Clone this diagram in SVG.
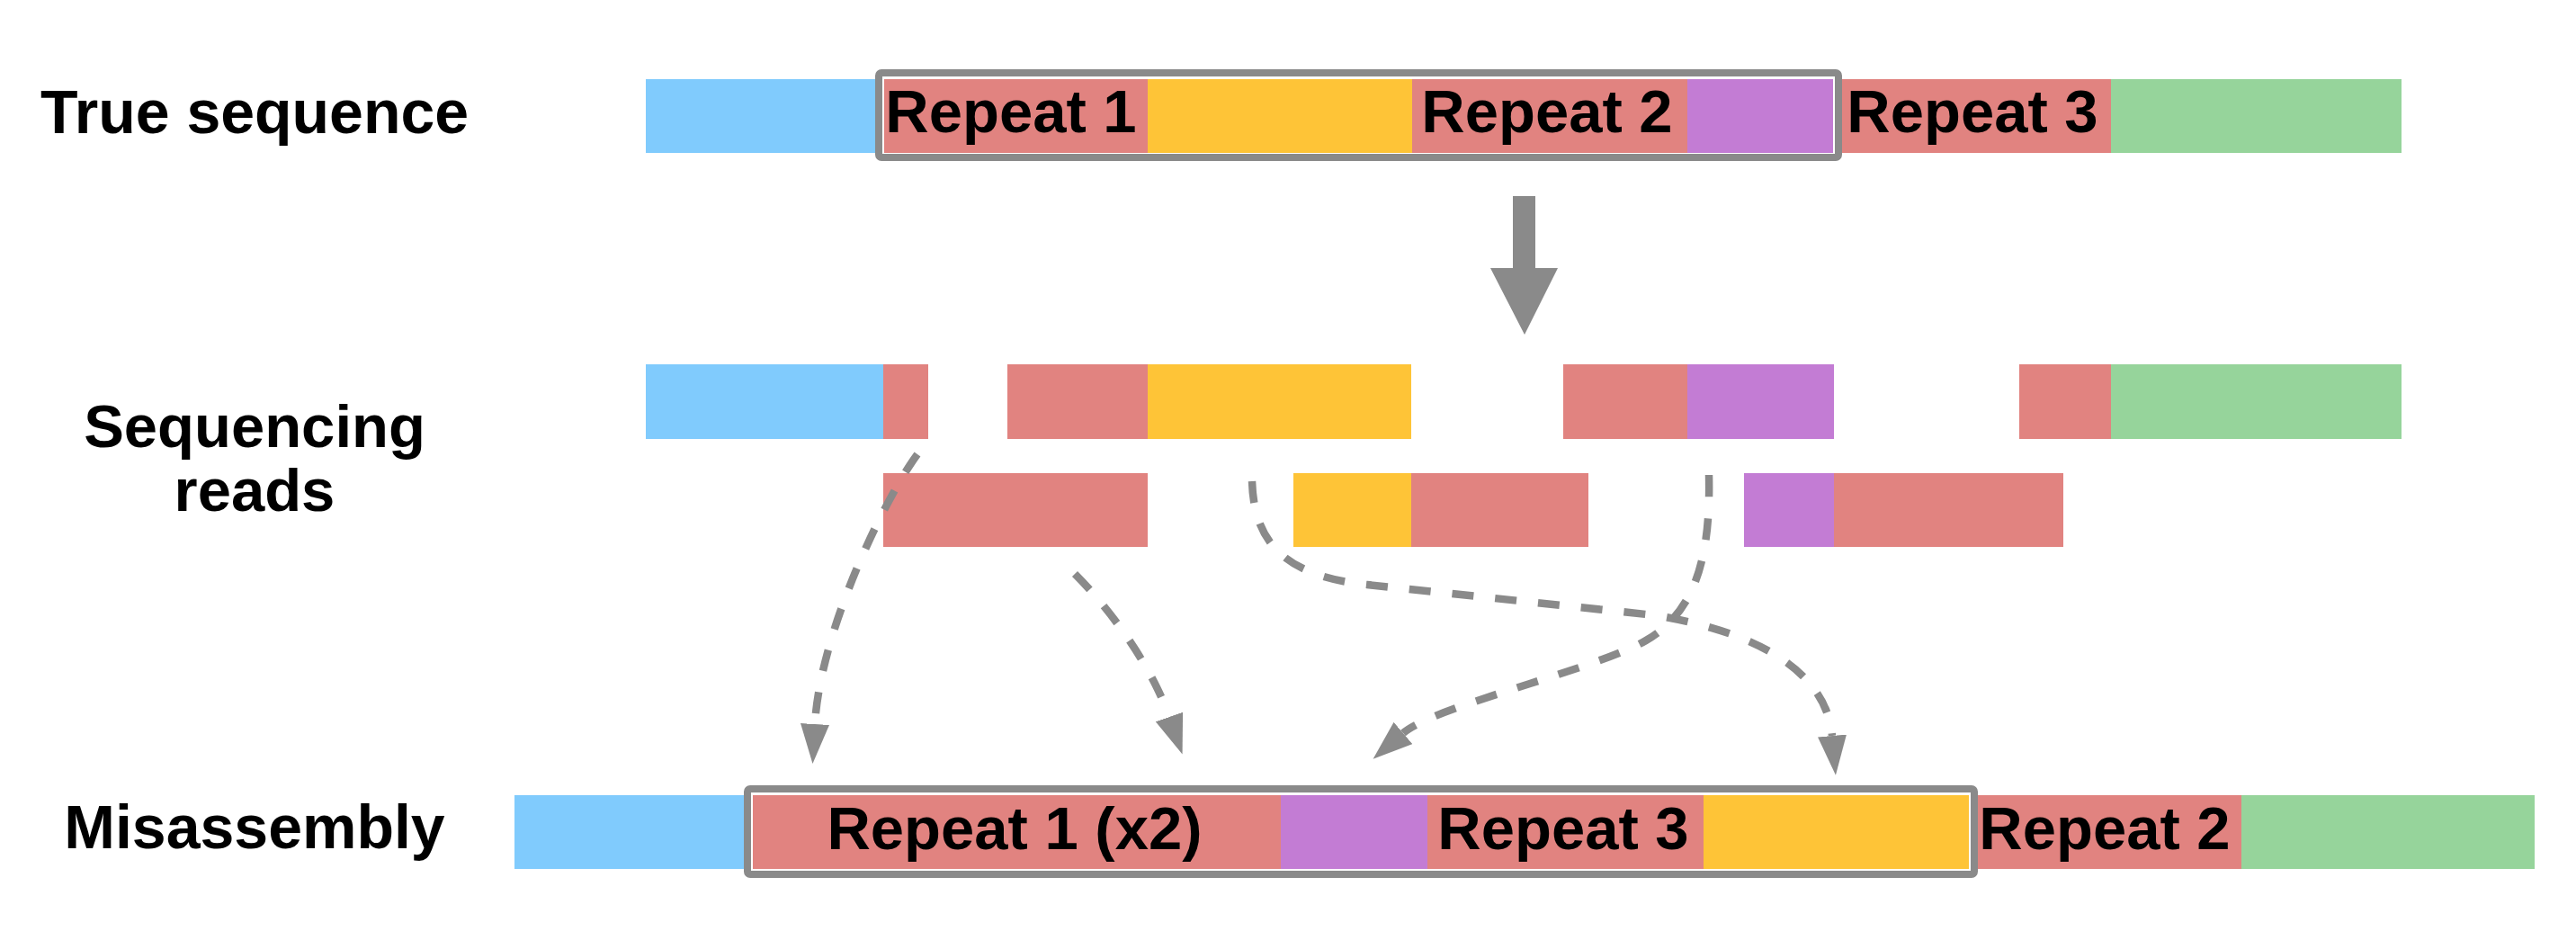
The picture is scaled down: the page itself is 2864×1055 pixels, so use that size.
<svg xmlns="http://www.w3.org/2000/svg" width="2864" height="1055" viewBox="0 0 2864 1055">
<style>
.lbl{font-family:"Liberation Sans",Arial,sans-serif;font-weight:bold;font-size:68px;fill:#000;text-anchor:middle}
.rep{font-family:"Liberation Sans",Arial,sans-serif;font-weight:bold;font-size:67px;fill:#000;text-anchor:middle}
.b{fill:#80CBFD}.r{fill:#E18380}.y{fill:#FEC437}.p{fill:#C37CD4}.g{fill:#96D49B}
.box{fill:none;stroke:#8A8A8A;stroke-width:8}
.gap{fill:none;stroke:#FFFFFF;stroke-width:3}
.dash{fill:none;stroke:#8A8A8A;stroke-width:8.5;stroke-dasharray:24 24;marker-end:url(#ah)}
</style>
<defs>
<marker id="ah" markerUnits="userSpaceOnUse" markerWidth="46" markerHeight="32" refX="0" refY="16" orient="auto" viewBox="0 0 46 32">
<path d="M0,0 L44,16 L0,32 Z" fill="#8A8A8A"/>
</marker>
</defs>
<rect width="2864" height="1055" fill="#FFFFFF"/>

<g id="labels">
<text class="lbl" x="283" y="148">True sequence</text>
<text class="lbl" x="283" y="497" style="font-size:67px"><tspan x="283" y="497">Sequencing</tspan><tspan x="283" y="568">reads</tspan></text>
<text class="lbl" x="283" y="943">Misassembly</text>
</g>

<g id="true-sequence">
<rect class="b" x="718" y="88" width="264" height="82"/>
<rect class="r" x="982" y="88" width="294" height="82"/>
<rect class="y" x="1276" y="88" width="294" height="82"/>
<rect class="r" x="1570" y="88" width="306" height="82"/>
<rect class="p" x="1876" y="88" width="165" height="82"/>
<rect class="r" x="2041" y="88" width="306" height="82"/>
<rect class="g" x="2347" y="88" width="323" height="82"/>
<rect class="gap" x="981.5" y="85.5" width="1058" height="86"/>
<rect class="box" x="977" y="81" width="1067" height="94" rx="3"/>
<text class="rep" x="1124" y="147">Repeat 1</text>
<text class="rep" x="1720" y="147">Repeat 2</text>
<text class="rep" x="2193" y="147">Repeat 3</text>
</g>

<g id="read-1">
<rect class="b" x="718" y="405" width="264" height="83"/>
<rect class="r" x="982" y="405" width="50" height="83"/>
</g>
<g id="read-2">
<rect class="r" x="1120" y="405" width="156" height="83"/>
<rect class="y" x="1276" y="405" width="293" height="83"/>
</g>
<g id="read-3">
<rect class="r" x="1738" y="405" width="138" height="83"/>
<rect class="p" x="1876" y="405" width="163" height="83"/>
</g>
<g id="read-4">
<rect class="r" x="2245" y="405" width="102" height="83"/>
<rect class="g" x="2347" y="405" width="323" height="83"/>
</g>
<g id="read-5">
<rect class="r" x="982" y="526" width="294" height="82"/>
</g>
<g id="read-6">
<rect class="y" x="1438" y="526" width="131" height="82"/>
<rect class="r" x="1569" y="526" width="197" height="82"/>
</g>
<g id="read-7">
<rect class="p" x="1939" y="526" width="100" height="82"/>
<rect class="r" x="2039" y="526" width="255" height="82"/>
</g>

<g id="misassembly">
<rect class="b" x="572" y="884" width="259" height="82"/>
<rect class="r" x="831" y="884" width="300" height="82"/>
<rect class="r" x="1131" y="884" width="293" height="82"/>
<rect class="p" x="1424" y="884" width="163" height="82"/>
<rect class="r" x="1587" y="884" width="307" height="82"/>
<rect class="y" x="1894" y="884" width="301" height="82"/>
<rect class="r" x="2195" y="884" width="297" height="82"/>
<rect class="g" x="2492" y="884" width="326" height="82"/>
<rect class="gap" x="835.5" y="881.5" width="1355" height="87"/>
<rect class="box" x="831" y="877" width="1364" height="95" rx="3"/>
<text class="rep" x="1128" y="944">Repeat 1 (x2)</text>
<text class="rep" x="1738" y="944">Repeat 3</text>
<text class="rep" x="2340" y="944">Repeat 2</text>
</g>

<g id="connectors">
<path d="M1682,218 H1707 V298 H1732 L1695,372 L1657,298 H1682 Z" fill="#8A8A8A"/>
<path class="dash" d="M1020,505 C985,552 912,700 906,805"/>
<path class="dash" d="M1195,638 C1235,678 1280,740 1300,797"/>
<path class="dash" d="M1392,535 C1394,595 1420,640 1520,650 L1840,684 C1940,700 2030,740 2037,818"/>
<path class="dash" d="M1900,528 C1902,620 1885,680 1830,712 C1775,744 1595,785 1560,815"/>
</g>
</svg>
